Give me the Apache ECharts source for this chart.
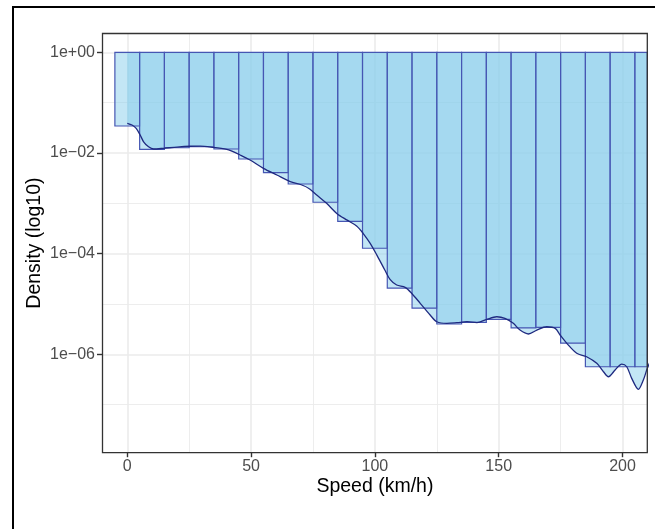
<!DOCTYPE html>
<html><head><meta charset="utf-8">
<script src="https://cdn.jsdelivr.net/npm/echarts@6/dist/echarts.min.js"></script>
<style>
html,body{margin:0;padding:0;background:#fff;overflow:hidden;}
#wrap{position:relative;width:655px;height:529px;overflow:hidden;}
#chart{position:absolute;left:0;top:0;width:655px;height:529px;}
#frame{position:absolute;left:12px;top:6px;width:800px;height:800px;border-left:2px solid #000;border-top:2px solid #000;pointer-events:none;}
</style></head>
<body><div id="wrap"><div id="chart"></div><div id="frame"></div></div>
<script>
// Histogram bins (km/h) and their densities
const binCenters = [0,10,20,30,40,50,60,70,80,90,100,110,120,130,140,150,160,170,180,190,200,210];
const binDensity = [3.44e-2,1.18e-2,1.27e-2,1.33e-2,1.20e-2,7.59e-3,4.06e-3,2.42e-3,1.05e-3,4.39e-4,1.28e-4,
                    2.07e-5,8.3e-6,4.0e-6,4.3e-6,4.95e-6,3.35e-6,3.43e-6,1.67e-6,5.66e-7,5.66e-7,5.66e-7];
const binWidth = 10;
// Kernel density curve
const curveSpeed = [0,1.9,3.6,5.2,6.6,8.6,10.6,14.7,20.1,25.4,29.5,34.8,40.2,42,45.6,49.6,55,60.4,65.8,70.5,73.8,76.5,
  80.5,84.6,88.6,92.6,95.3,98.1,100.8,104,106.1,108.8,112.2,114.9,118.3,122.3,125,129.1,133.1,137.2,141.2,145.2,149.2,
  152.5,155.9,158.6,162,165.4,169.4,172.8,174.8,177.5,181.5,185.5,189.6,192.3,194.3,197,199.7,201.7,203.7,206.4,208.4,210,212];
const curveDensity = [3.89e-2,3.60e-2,3.09e-2,2.28e-2,1.67e-2,1.33e-2,1.20e-2,1.24e-2,1.31e-2,1.36e-2,1.37e-2,1.29e-2,1.18e-2,1.10e-2,
  9.12e-3,7.24e-3,4.95e-3,3.65e-3,2.69e-3,2.31e-3,1.91e-3,1.46e-3,1.00e-3,6.31e-4,4.68e-4,3.55e-4,2.51e-4,1.60e-4,9.33e-5,4.73e-5,
  3.09e-5,2.38e-5,2.14e-5,1.62e-5,1.03e-5,6.03e-6,4.44e-6,4.12e-6,4.25e-6,4.44e-6,4.25e-6,4.95e-6,5.58e-6,5.19e-6,4.12e-6,3.03e-6,
  2.53e-6,3.03e-6,3.53e-6,3.28e-6,2.42e-6,1.65e-6,1.05e-6,8.95e-7,6.61e-7,4.51e-7,3.58e-7,4.88e-7,6.41e-7,5.66e-7,3.33e-7,2.01e-7,
  3.08e-7,5.26e-7,8.91e-7];
const xTicks = [0,50,100,150,200];
const xMinor = [25,75,125,175];
const yTickExp = [-6,-4,-2,0];
const yMinorExp = [-7,-5,-3,-1];
const xRange = [-10,210];
const yRangeExp = [-7.955,0.374];

const FONT = 'Liberation Sans, Arial, Helvetica, sans-serif';
const G = {left:102.5, top:33.5, right:7.7, bottom:76.3};
const fillCol = 'rgba(135,206,235,0.5)';
const fmtExp = v => { const e = Math.round(v); return '1e' + (e < 0 ? '\u2212' : '+') + String(Math.abs(e)).padStart(2,'0'); };

const chart = echarts.init(document.getElementById('chart'), null, {renderer:'canvas'});
const option = {
  animation:false,
  grid:{left:G.left, top:G.top, right:G.right, bottom:G.bottom, containLabel:false},
  xAxis:[{
    type:'value', min:xRange[0], max:xRange[1], position:'bottom',
    axisLine:{show:false, onZero:false},
    axisTick:{show:true, length:4.5, customValues:xTicks, lineStyle:{color:'#333', width:1.4}},
    axisLabel:{customValues:xTicks, color:'#4d4d4d', fontSize:16, fontFamily:FONT, margin:5.5},
    splitLine:{show:true, lineStyle:{color:'#ebebeb', width:1.6}},
    name:'Speed (km/h)', nameLocation:'middle', nameGap:24, nameMoveOverlap:false,
    nameTextStyle:{color:'#000', fontSize:19.5, fontFamily:FONT}
  },{
    type:'value', min:xRange[0], max:xRange[1], position:'top',
    axisLine:{show:false, onZero:false}, axisLabel:{show:false},
    axisTick:{show:false, customValues:xMinor},
    splitLine:{show:true, lineStyle:{color:'#ebebeb', width:0.9}}
  }],
  yAxis:[{
    type:'value', min:yRangeExp[0], max:yRangeExp[1], position:'left',
    axisLine:{show:false, onZero:false},
    axisTick:{show:true, length:5.5, customValues:yTickExp, lineStyle:{color:'#333', width:1.4}},
    axisLabel:{customValues:yTickExp, formatter:fmtExp, color:'#4d4d4d', fontSize:16, fontFamily:FONT, margin:7.5},
    splitLine:{show:true, lineStyle:{color:'#ebebeb', width:1.6}},
    name:'Density (log10)', nameLocation:'middle', nameGap:58, nameMoveOverlap:false,
    nameTextStyle:{color:'#000', fontSize:19.5, fontFamily:FONT}
  },{
    type:'value', min:yRangeExp[0], max:yRangeExp[1], position:'right',
    axisLine:{show:false, onZero:false}, axisLabel:{show:false},
    axisTick:{show:false, customValues:yMinorExp},
    splitLine:{show:true, lineStyle:{color:'#ebebeb', width:0.9}}
  }],
  graphic:[{
    type:'rect', z:100, silent:true,
    shape:{x:G.left, y:G.top, width:655-G.left-G.right, height:529-G.top-G.bottom},
    style:{fill:null, stroke:'#333', lineWidth:1.3}
  }],
  series:[
    {
      type:'line', z:1, clip:true, showSymbol:false, smooth:0.3,
      data:curveSpeed.map((s,i)=>[s, Math.log10(curveDensity[i])]),
      lineStyle:{width:0, opacity:0}, areaStyle:{color:fillCol, opacity:1}
    },
    {
      type:'custom', z:2, clip:true,
      data:binCenters.map((c,i)=>[c, Math.log10(binDensity[i])]),
      encode:{x:0, y:1},
      renderItem:(params, api)=>{
        const c = api.value(0), v = api.value(1);
        const p0 = api.coord([c - binWidth/2, 0]);
        const p1 = api.coord([c + binWidth/2, v]);
        const cs = params.coordSys;
        const r = echarts.graphic.clipRectByRect(
          {x:p0[0], y:p0[1], width:p1[0]-p0[0], height:p1[1]-p0[1]},
          {x:cs.x, y:cs.y, width:cs.width, height:cs.height});
        if (!r) return null;
        return {type:'rect', shape:r, style:{fill:fillCol, stroke:'#4656b3', lineWidth:1.2}};
      }
    },
    {
      type:'line', z:3, clip:true, showSymbol:false, smooth:0.3,
      data:curveSpeed.map((s,i)=>[s, Math.log10(curveDensity[i])]),
      lineStyle:{color:'#1f2a80', width:1.3}
    }
  ]
};
chart.setOption(option);
</script>
</body></html>
